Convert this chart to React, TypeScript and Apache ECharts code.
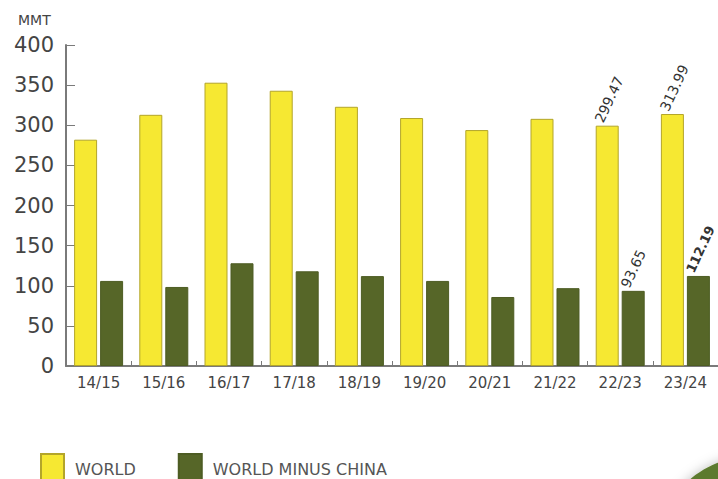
import React, { useEffect, useRef } from "react";
import * as echarts from "echarts";

// Marketing years
const seasons = ["14/15", "15/16", "16/17", "17/18", "18/19", "19/20", "20/21", "21/22", "22/23", "23/24"];
// Ending stocks, million metric tons
const world = [282, 313, 353, 343, 323, 309, 294, 308, 299.47, 313.99];
const worldMinusChina = [106, 98.5, 128, 118, 112, 106, 86, 97, 93.65, 112.19];
// Seasons whose values are printed above the bars
const labelled = ["22/23", "23/24"];
const yTicks = { min: 0, max: 400, interval: 50 };

const FONT = "DejaVu Sans";

export default function App() {
  const ref = useRef<HTMLDivElement>(null);

  useEffect(() => {
    if (!ref.current) return;
    const chart = echarts.init(ref.current, null, { renderer: "svg" });

    const valueLabel = (bold: boolean) => ({
      show: true,
      position: [3, -4] as [number, number],
      rotate: 65,
      align: "left" as const,
      verticalAlign: "middle" as const,
      fontFamily: FONT,
      fontSize: bold ? 13 : 14,
      color: "#333",
      fontWeight: bold ? ("bold" as const) : ("normal" as const),
      formatter: (p: any) => p.value.toFixed(2),
    });

    const toData = (vals: number[], boldLast: boolean) =>
      vals.map((v, i) =>
        labelled.includes(seasons[i])
          ? { value: v, label: valueLabel(boldLast && i === vals.length - 1) }
          : { value: v }
      );

    chart.setOption({
      animation: false,
      backgroundColor: "#ffffff",
      textStyle: { fontFamily: FONT },
      grid: { left: 66, right: 0, top: 45, bottom: 113, containLabel: false },
      title: {
        text: "MMT",
        left: 13,
        top: 8,
        textStyle: { fontFamily: FONT, fontSize: 14, fontWeight: "normal", color: "#444" },
      },
      legend: {
        left: 35,
        top: 448,
        itemWidth: 23,
        itemHeight: 30,
        itemGap: 42,
        icon: "rect",
        textStyle: { fontFamily: FONT, fontSize: 16, color: "#555", padding: [0, 0, 0, 6] },
        data: ["WORLD", "WORLD MINUS CHINA"],
      },
      xAxis: {
        type: "category",
        data: seasons,
        axisLine: { lineStyle: { color: "#7a7a7a", width: 2 } },
        axisTick: { show: true, inside: true, length: 5, lineStyle: { color: "#7a7a7a" } },
        axisLabel: { fontFamily: FONT, fontSize: 15, color: "#444", margin: 9 },
      },
      yAxis: {
        type: "value",
        min: yTicks.min,
        max: yTicks.max,
        interval: yTicks.interval,
        axisLine: { show: true, lineStyle: { color: "#7a7a7a", width: 2 } },
        axisTick: { show: true, inside: true, length: 9, lineStyle: { color: "#7a7a7a" } },
        splitLine: { show: false },
        axisLabel: { fontFamily: FONT, fontSize: 21, color: "#444", margin: 12 },
      },
      series: [
        {
          name: "WORLD",
          type: "bar",
          barWidth: 23,
          barGap: "13%",
          itemStyle: { color: "#F6E832", borderColor: "#B3A52A", borderWidth: 1 },
          data: toData(world, false),
        },
        {
          name: "WORLD MINUS CHINA",
          type: "bar",
          barWidth: 23,
          itemStyle: { color: "#566628", borderColor: "#4d5c23", borderWidth: 1 },
          data: toData(worldMinusChina, true),
        },
      ],
      graphic: [
        {
          type: "ellipse",
          shape: { cx: 760, cy: 530, rx: 95, ry: 75 },
          style: { fill: "#5c7a2e", shadowBlur: 12, shadowColor: "rgba(0,0,0,0.25)" },
          silent: true,
        },
      ],
    });

    return () => chart.dispose();
  }, []);

  return <div ref={ref} style={{ width: 718, height: 479, position: "absolute", left: 0, top: 0 }} />;
}
